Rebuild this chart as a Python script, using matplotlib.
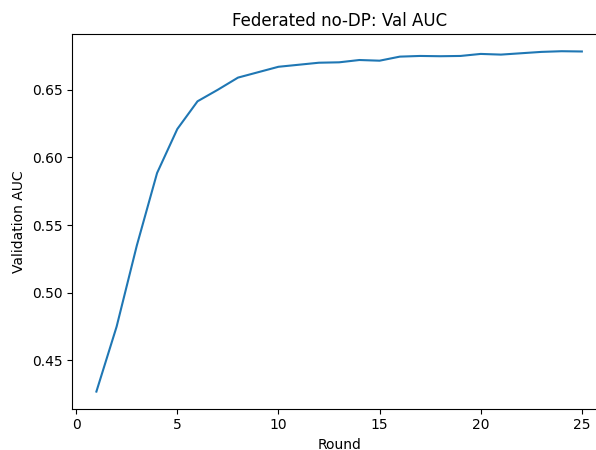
import matplotlib
matplotlib.use("Agg")
import matplotlib.pyplot as plt

rounds = list(range(1, 26))
val_auc = [0.427, 0.475, 0.535, 0.5885, 0.621, 0.6415, 0.650, 0.659, 0.663, 0.667,
           0.6685, 0.670, 0.6703, 0.672, 0.6715, 0.6745, 0.675, 0.6748, 0.675, 0.6765,
           0.676, 0.677, 0.678, 0.6785, 0.6783]

fig = plt.figure(figsize=(5.96, 4.5), dpi=100)
# the reference is cropped on the right, so the axes run past the edge
ax = fig.add_axes([0.121, 0.092, 0.896, 0.832])
ax.plot(rounds, val_auc)
ax.set_title("Federated no-DP: Val AUC")
ax.set_xlabel("Round")
ax.set_ylabel("Validation AUC")
fig.savefig("out.png", dpi=100)
